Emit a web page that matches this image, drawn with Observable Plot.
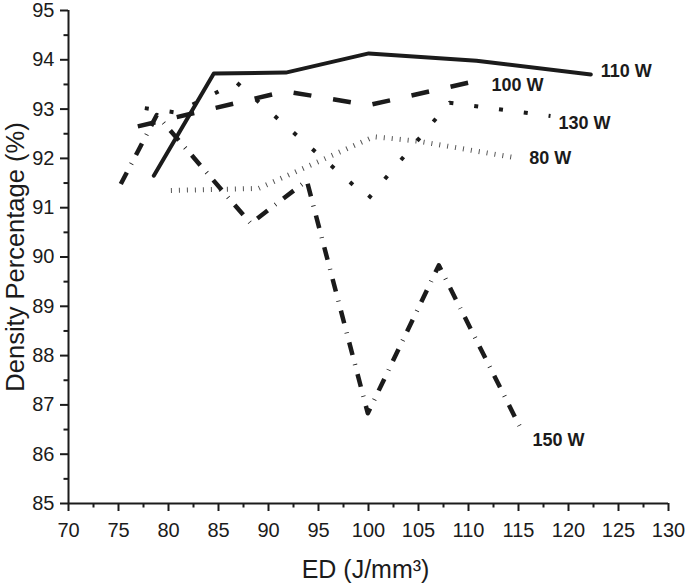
<!DOCTYPE html>
<html><head><meta charset="utf-8">
<script src="https://cdn.jsdelivr.net/npm/d3@7"></script>
<script src="https://cdn.jsdelivr.net/npm/@observablehq/plot@0.6"></script>
<style>
body{margin:0;background:#fff}
svg{font-family:"Liberation Sans",Arial,Helvetica,sans-serif}
</style>
</head><body><div id="chart"></div>
<script>
// ---- data ----
const ed110 = [78.53, 84.53, 91.73, 100.03, 110.8, 122.23];
const dens110 = [91.65, 93.72, 93.74, 94.13, 93.98, 93.70];

const ed100 = [76.93, 91.7, 100.0, 111.2];
const dens100 = [92.65, 93.36, 93.08, 93.59];

const ed130 = [77.63, 80.79, 86.8, 100.0, 108.1, 118.2];
const dens130 = [93.02, 92.93, 93.54, 91.19, 93.13, 92.86];

const ed80 = [80.24, 89.0, 100.53, 104.93, 114.48];
const dens80 = [91.35, 91.39, 92.44, 92.35, 92.02];

const ed150 = [75.23, 78.83, 88.23, 93.83, 99.93, 107.03, 115.4];
const dens150 = [91.48, 92.88, 90.68, 91.55, 86.83, 89.83, 86.45];

const xTicks = [70, 75, 80, 85, 90, 95, 100, 105, 110, 115, 120, 125, 130];
const xMinor = [72.5, 77.5, 82.5, 87.5, 92.5, 97.5, 102.5, 107.5, 112.5, 117.5, 122.5, 127.5];
const yTicks = [85, 86, 87, 88, 89, 90, 91, 92, 93, 94, 95];
const yMinor = [85.5, 86.5, 87.5, 88.5, 89.5, 90.5, 91.5, 92.5, 93.5, 94.5];

const xTitle = "ED (J/mm³)";
const yTitle = "Density Percentage (%)";

// ---- tables ----
const rows = (name, xs, ys) => xs.map((x, i) => ({series: name, ed: x, dens: ys[i]}));
const s110 = rows("110 W", ed110, dens110);
const s100 = rows("100 W", ed100, dens100);
const s130 = rows("130 W", ed130, dens130);
const s80  = rows("80 W",  ed80,  dens80);
const s150 = rows("150 W", ed150, dens150);

const ink = "#1b1b1b";
const lab = (s, dx, dy) => Plot.text([s[s.length - 1]], {
  x: "ed", y: "dens", text: "series", dx, dy, textAnchor: "start",
  fontWeight: "bold", fontSize: 18, fill: ink
});

const chart = Plot.plot({
  width: 685, height: 584,
  marginLeft: 68, marginRight: 17, marginTop: 10, marginBottom: 81,
  x: {domain: [70, 130]},
  y: {domain: [85, 95]},
  marks: [
    Plot.line(s80,  {x: "ed", y: "dens", stroke: "#555", strokeWidth: 5, strokeDasharray: "1 7", strokeLinecap: "butt"}),
    Plot.line(s130, {x: "ed", y: "dens", stroke: ink, strokeWidth: 4, strokeDasharray: "4 21", strokeLinecap: "butt"}),
    Plot.line(s150, {x: "ed", y: "dens", stroke: ink, strokeWidth: 4.5, strokeDasharray: "13 9.5 0.8 9.5", strokeLinecap: "butt"}),
    Plot.line(s100, {x: "ed", y: "dens", stroke: ink, strokeWidth: 4.5, strokeDasharray: "18 22", strokeLinecap: "butt"}),
    Plot.line(s110, {x: "ed", y: "dens", stroke: ink, strokeWidth: 4}),
    lab(s110, 10, -3),
    lab(s100, 11, 5.5),
    lab(s130, 8, 7.5),
    lab(s80, 16, 1),
    lab(s150, 10, 8),
    Plot.axisX({ticks: xTicks, tickSize: 8, tickPadding: 11, fontSize: 20, strokeWidth: 2, stroke: ink, fill: ink, label: null}),
    Plot.axisX({ticks: xMinor, tickSize: 4.5, strokeWidth: 2, stroke: ink, tickFormat: () => "", label: null}),
    Plot.axisY({ticks: yTicks, tickSize: 8, tickPadding: 6, fontSize: 20, strokeWidth: 2, stroke: ink, fill: ink, label: null}),
    Plot.axisY({ticks: yMinor, tickSize: 4.5, strokeWidth: 2, stroke: ink, tickFormat: () => "", label: null}),
    Plot.ruleX([70], {stroke: ink, strokeWidth: 2}),
    Plot.ruleY([85], {stroke: ink, strokeWidth: 2}),
    Plot.text([xTitle], {frameAnchor: "bottom", lineAnchor: "middle", textAnchor: "middle", dx: -3, dy: 66, fontSize: 25, fill: ink}),
    Plot.text([yTitle], {frameAnchor: "left", lineAnchor: "middle", textAnchor: "middle", rotate: -90, dx: -53, fontSize: 25.5, fill: ink})
  ]
});
document.getElementById("chart").appendChild(chart);
</script>
</body></html>
